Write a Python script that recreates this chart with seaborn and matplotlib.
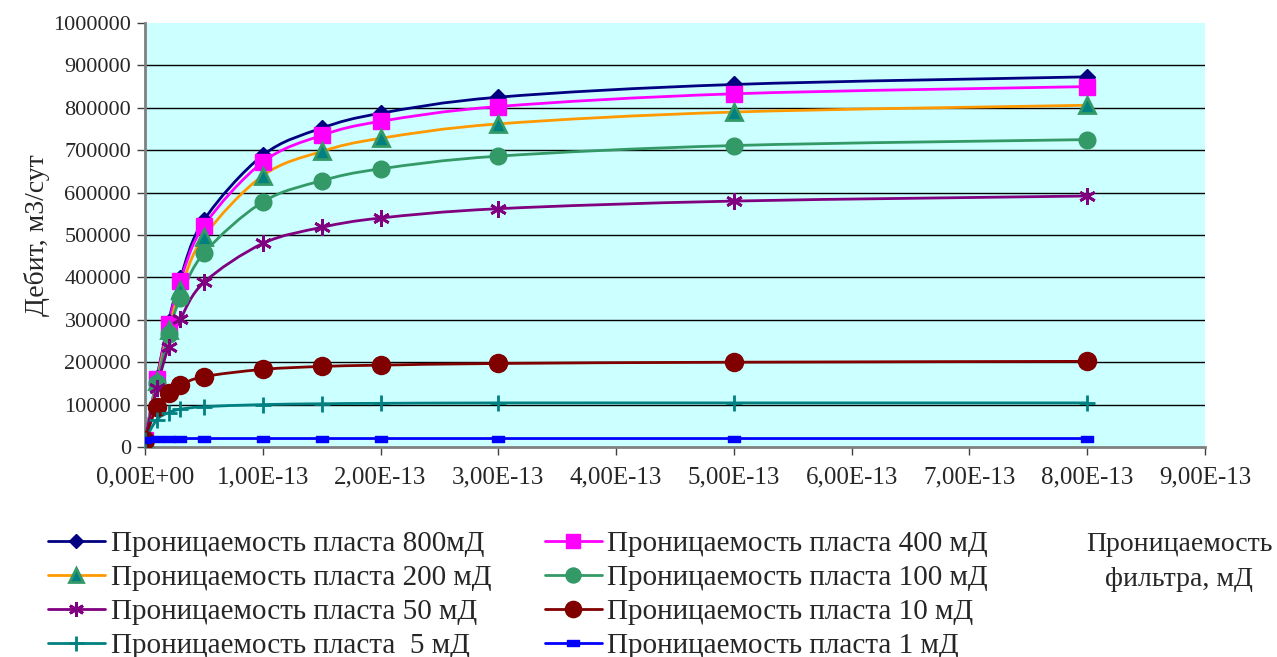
import numpy as np
import matplotlib
matplotlib.use("Agg")
import matplotlib.pyplot as plt
import seaborn as sns
from matplotlib.path import Path
from matplotlib.patches import PathPatch
from matplotlib.lines import Line2D
from matplotlib.ticker import FuncFormatter

# ---------------- data ----------------
filter_perm = [0, 1e-14, 2e-14, 3e-14, 5e-14, 1e-13, 1.5e-13, 2e-13, 3e-13, 5e-13, 8e-13]

labels = ["Проницаемость пласта 800мД", "Проницаемость пласта 400 мД",
          "Проницаемость пласта 200 мД", "Проницаемость пласта 100 мД",
          "Проницаемость пласта 50 мД", "Проницаемость пласта 10 мД",
          "Проницаемость пласта  5 мД", "Проницаемость пласта 1 мД"]

q800 = [17000, 162000, 295000, 398000, 535000, 688000, 752000, 787000, 825000, 855000, 873000]
q400 = [17000, 160000, 290000, 392000, 522000, 672000, 735000, 768000, 803000, 833000, 850000]
q200 = [17000, 155000, 275000, 370000, 496000, 640000, 697000, 728000, 762000, 790000, 806000]
q100 = [17000, 150000, 266000, 352000, 457000, 578000, 628000, 656000, 686000, 711000, 725000]
q50 = [17000, 140000, 236000, 301000, 388000, 480000, 518000, 540000, 562000, 580000, 592000]
q10 = [17000, 95000, 128000, 146000, 166000, 183000, 190000, 193000, 197000, 200000, 202000]
q5 = [17000, 64000, 81000, 89000, 95000, 100000, 102000, 103000, 104000, 104000, 104000]
q1 = [17000, 19000, 20000, 20000, 20000, 20000, 20000, 20000, 20000, 20000, 20000]

series = [q800, q400, q200, q100, q50, q10, q5, q1]

x_ticks = [0, 1e-13, 2e-13, 3e-13, 4e-13, 5e-13, 6e-13, 7e-13, 8e-13, 9e-13]
y_ticks = [0, 100000, 200000, 300000, 400000, 500000, 600000, 700000, 800000, 900000, 1000000]

ylabel = "Дебит, м3/сут"
xlabel = "Проницаемость\nфильтра, мД"

# ---------------- styles ----------------
dash_marker = Path([(-1, -0.45), (1, -0.45), (1, 0.45), (-1, 0.45), (-1, -0.45)],
                   [Path.MOVETO, Path.LINETO, Path.LINETO, Path.LINETO, Path.CLOSEPOLY])
styles = [
    dict(color="#000080", marker="D", ms=8, mfc="#000080", mec="#000080", mew=1),
    dict(color="#FF00FF", marker="s", ms=11, mfc="#FF00FF", mec="#FF00FF", mew=1),
    dict(color="#FF9900", marker="^", ms=11, mfc="#008080", mec="#339966", mew=2),
    dict(color="#339966", marker="o", ms=12, mfc="#339966", mec="#339966", mew=1),
    dict(color="#800080", marker=(6, 2, 0), ms=12, mfc="#800080", mec="#800080", mew=2),
    dict(color="#800000", marker="o", ms=13, mfc="#800000", mec="#800000", mew=1),
    dict(color="#008080", marker="+", ms=12, mfc="#008080", mec="#008080", mew=2),
    dict(color="#0000FF", marker=dash_marker, ms=9, mfc="#0000FF", mec="#0000FF", mew=1),
]

sns.set_theme(style="white")
plt.rcParams["font.family"] = ["Liberation Serif", "DejaVu Serif"]

fig = plt.figure(figsize=(12.77, 6.57), dpi=100)
ax = fig.add_axes([145 / 1277, 1 - 447 / 657, 1060 / 1277, 424 / 657])
ax.set_facecolor("#CCFFFF")


def smooth_path(xs, ys):
    pts = np.column_stack([xs, ys]).astype(float)
    n = len(pts)
    verts = [tuple(pts[0])]
    codes = [Path.MOVETO]
    for i in range(n - 1):
        p0 = pts[i - 1] if i > 0 else pts[i]
        p1 = pts[i]
        p2 = pts[i + 1]
        p3 = pts[i + 2] if i + 2 < n else pts[i + 1]
        c1 = p1 + (p2 - p0) / 6.0
        c2 = p2 - (p3 - p1) / 6.0
        verts += [tuple(c1), tuple(c2), tuple(p2)]
        codes += [Path.CURVE4] * 3
    return Path(verts, codes)


handles = []
for ys, st, lab in zip(series, styles, labels):
    patch = PathPatch(smooth_path(filter_perm, ys), facecolor="none",
                      edgecolor=st["color"], lw=2.0, zorder=3)
    ax.add_patch(patch)
    sns.lineplot(x=filter_perm, y=ys, ax=ax, linestyle="none", marker=st["marker"],
                 markersize=st["ms"], markerfacecolor=st["mfc"], markeredgecolor=st["mec"],
                 markeredgewidth=st["mew"], color=st["color"], zorder=4, legend=False)
    handles.append(Line2D([], [], color=st["color"], lw=2.0, marker=st["marker"],
                          markersize=st["ms"] * 0.9, markerfacecolor=st["mfc"],
                          markeredgecolor=st["mec"], markeredgewidth=st["mew"]))

ax.set_xlim(x_ticks[0], x_ticks[-1])
ax.set_ylim(y_ticks[0], y_ticks[-1])
ax.set_xticks(x_ticks)
ax.set_yticks(y_ticks)
ax.xaxis.set_major_formatter(FuncFormatter(lambda v, p: f"{v:.2E}".replace(".", ",")))
ax.yaxis.set_major_formatter(FuncFormatter(lambda v, p: f"{int(round(v))}"))
ax.hlines(y_ticks[1:-1], x_ticks[0], x_ticks[-1], colors="black", lw=1.0, zorder=1)

for s in ["top", "right"]:
    ax.spines[s].set_visible(False)
for s in ["left", "bottom"]:
    ax.spines[s].set_color("#808080")
    ax.spines[s].set_linewidth(2)
ax.tick_params(axis="both", direction="out", length=6, width=1, color="#404040",
               left=True, bottom=True)
ax.tick_params(axis="y", labelsize=16, pad=4)
ax.tick_params(axis="x", labelsize=18, pad=8)

ax.set_ylabel(ylabel, fontsize=20, labelpad=2)
ax.set_xlabel("")

fig.text(1179 / 1277, 1 - 562 / 657, xlabel, ha="center", va="center", fontsize=20,
         linespacing=1.5)

# legend laid out row by row (two entries per row)
order = [0, 2, 4, 6, 1, 3, 5, 7]
leg = fig.legend([handles[i] for i in order], [labels[i] for i in order],
                 loc="upper left", bbox_to_anchor=(48 / 1277, 1 - 531 / 657),
                 ncol=2, frameon=False, fontsize=21, handlelength=1.95, handletextpad=0.2,
                 columnspacing=1.83, labelspacing=0.26, borderaxespad=0, borderpad=0)

fig.savefig("out.png", dpi=100)
